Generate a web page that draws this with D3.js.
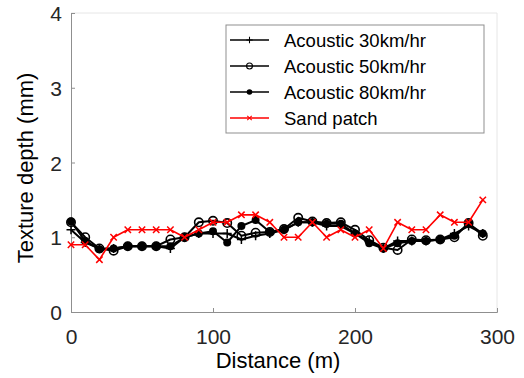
<!DOCTYPE html>
<html>
<head>
<meta charset="utf-8">
<script src="https://cdn.jsdelivr.net/npm/d3@7"></script>
<style>
  body { margin: 0; background: #fff; }
  svg text { font-family: "Liberation Sans", Arial, sans-serif; }
</style>
</head>
<body>
<svg id="chart" width="524" height="378"></svg>
<script>
// Data
const distance = [0, 10, 20, 30, 40, 50, 60, 70, 80, 90, 100, 110, 120, 130, 140,
                  150, 160, 170, 180, 190, 200, 210, 220, 230, 240, 250, 260, 270, 280, 290];
const acoustic30 = [1.1, 0.93, 0.85, 0.85, 0.88, 0.88, 0.88, 0.85, 1.0, 1.05, 1.05, 1.05, 0.97, 1.02, 1.05,
                    1.1, 1.2, 1.2, 1.15, 1.15, 1.05, 0.95, 0.85, 0.95, 0.95, 0.95, 0.97, 1.05, 1.15, 1.05];
const acoustic50 = [1.2, 1.0, 0.85, 0.82, 0.88, 0.88, 0.88, 0.97, 1.0, 1.2, 1.22, 1.19, 1.02, 1.06, 1.07,
                    1.11, 1.26, 1.21, 1.19, 1.2, 1.1, 0.96, 0.86, 0.83, 0.97, 0.96, 0.97, 1.0, 1.19, 1.02];
const acoustic80 = [1.21, 0.95, 0.84, 0.85, 0.88, 0.88, 0.88, 0.88, 1.0, 1.05, 1.08, 0.93, 1.15, 1.23, 1.07,
                    1.1, 1.2, 1.2, 1.18, 1.18, 1.05, 0.92, 0.85, 0.92, 0.95, 0.95, 0.97, 1.02, 1.18, 1.05];
const sandPatch = [0.9, 0.9, 0.7, 1.0, 1.1, 1.1, 1.1, 1.1, 1.0, 1.1, 1.2, 1.2, 1.3, 1.3, 1.2,
                   1.0, 1.0, 1.2, 1.0, 1.1, 1.0, 1.1, 0.85, 1.2, 1.1, 1.1, 1.3, 1.2, 1.2, 1.5];
const xTicks = [0, 100, 200, 300];
const yTicks = [0, 1, 2, 3, 4];
const seriesNames = ["Acoustic 30km/hr", "Acoustic 50km/hr", "Acoustic 80km/hr", "Sand patch"];

const svg = d3.select("#chart");
const margin = {top: 13, right: 27, bottom: 66, left: 71};
const width = 524 - margin.left - margin.right;
const height = 378 - margin.top - margin.bottom;

const g = svg.append("g")
    .attr("transform", `translate(${margin.left},${margin.top})`);

const x = d3.scaleLinear().domain([0, 300]).range([0, width]);
const y = d3.scaleLinear().domain([0, 4]).range([height, 0]);

// faint box on top/right
g.append("path")
    .attr("d", `M0,0H${width}V${height}`)
    .attr("fill", "none")
    .attr("stroke", "#e6e6e6")
    .attr("stroke-width", 1);

// axes
const xAxis = g.append("g")
    .attr("transform", `translate(0,${height})`)
    .call(d3.axisBottom(x).tickValues(xTicks).tickFormat(d3.format("d")).tickSize(-4).tickPadding(12));
const yAxis = g.append("g")
    .call(d3.axisLeft(y).tickValues(yTicks).tickFormat(d3.format("d")).tickSize(-4).tickPadding(9));

[xAxis, yAxis].forEach(a => {
  a.select(".domain").attr("stroke", "#8f8f8f");
  a.selectAll(".tick line").attr("stroke", "#8f8f8f");
  a.selectAll(".tick text")
      .attr("fill", "#262626")
      .style("font-size", "21px")
      .style("font-family", "'Liberation Sans', Arial, sans-serif");
});
xAxis.selectAll(".tick text").attr("dy", "0.95em");
yAxis.selectAll(".tick text").attr("dy", "0.36em");

// axis titles
svg.append("text")
    .attr("x", 278)
    .attr("y", 368)
    .attr("text-anchor", "middle")
    .style("font-size", "22px")
    .text("Distance (m)");
svg.append("text")
    .attr("transform", "translate(33,168) rotate(-90)")
    .attr("text-anchor", "middle")
    .style("font-size", "22px")
    .text("Texture depth (mm)");

const line = d3.line()
    .x((d, i) => x(distance[i]))
    .y(d => y(d));

function drawMarker(sel, type, color) {
  if (type === "plus") {
    sel.append("path").attr("d", "M-4.5,0H4.5M0,-4.5V4.5")
        .attr("stroke", color).attr("stroke-width", 1.5).attr("fill", "none");
  } else if (type === "circle") {
    sel.append("circle").attr("r", 4.2)
        .attr("stroke", color).attr("stroke-width", 1.6).attr("fill", "none");
  } else if (type === "dot") {
    sel.append("circle").attr("r", 4)
        .attr("fill", color);
  } else if (type === "x") {
    sel.append("path").attr("d", "M-3.2,-3.2L3.2,3.2M-3.2,3.2L3.2,-3.2")
        .attr("stroke", color).attr("stroke-width", 1.5).attr("fill", "none");
  }
}

const series = [
  {values: acoustic30, color: "#000", marker: "plus", lw: 2},
  {values: acoustic50, color: "#000", marker: "circle", lw: 2},
  {values: acoustic80, color: "#000", marker: "dot", lw: 2},
  {values: sandPatch, color: "#ff0000", marker: "x", lw: 1.6}
];

series.forEach(s => {
  g.append("path")
      .datum(s.values)
      .attr("fill", "none")
      .attr("stroke", s.color)
      .attr("stroke-width", s.lw)
      .attr("stroke-linejoin", "round")
      .attr("d", line);
  g.selectAll(null)
      .data(s.values)
      .enter().append("g")
      .attr("transform", (d, i) => `translate(${x(distance[i])},${y(d)})`)
      .each(function() { drawMarker(d3.select(this), s.marker, s.color); });
});

// legend
const legend = svg.append("g").attr("transform", "translate(226,25)");
legend.append("rect")
    .attr("width", 258)
    .attr("height", 108)
    .attr("fill", "#fff")
    .attr("stroke", "#8f8f8f")
    .attr("stroke-width", 1);

const legendMarkers = [
  {marker: "plus", color: "#000"},
  {marker: "circle", color: "#000"},
  {marker: "dot", color: "#000"},
  {marker: "x", color: "#ff0000"}
];
seriesNames.forEach((name, i) => {
  const row = legend.append("g").attr("transform", `translate(0,${15 + i * 26})`);
  row.append("line")
      .attr("x1", 4).attr("x2", 43)
      .attr("stroke", legendMarkers[i].color)
      .attr("stroke-width", 1.5);
  const m = row.append("g").attr("transform", "translate(23.5,0) scale(0.7)");
  drawMarker(m, legendMarkers[i].marker, legendMarkers[i].color);
  row.append("text")
      .attr("x", 58)
      .attr("dy", "0.36em")
      .style("font-size", "18.5px")
      .attr("fill", "#000")
      .text(name);
});
</script>
</body>
</html>
